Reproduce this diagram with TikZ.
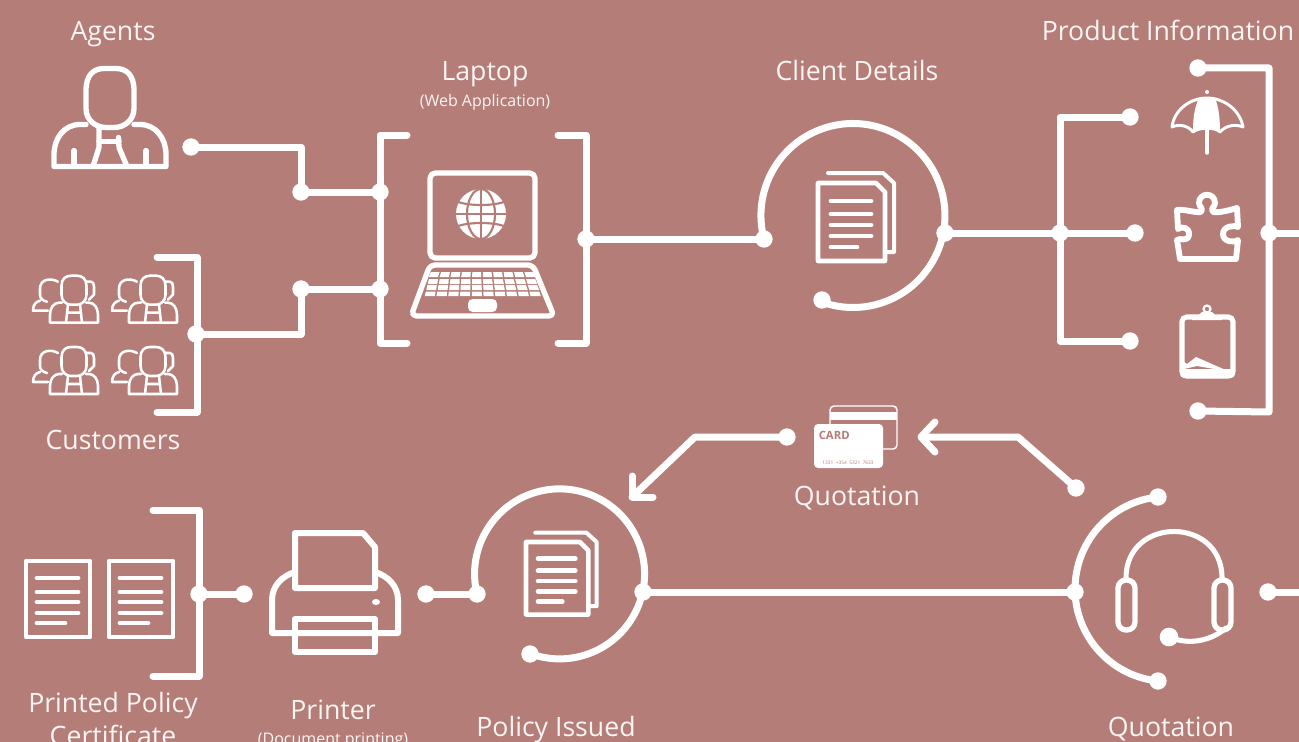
\documentclass[tikz,border=0pt]{standalone}
\usepackage{fontspec}
\setmainfont{Open Sans}
\definecolor{bgc}{RGB}{181,125,119}
\colorlet{txtc}{white!92!bgc}
\tikzset{
  wire/.style={draw=white,line width=5.25pt,line cap=round,line join=round},
  dotn/.style={circle,fill=white,inner sep=0pt,minimum size=13pt},
  icon/.style={draw=white,line width=4pt,line join=round,line cap=round},
  lab/.style={text=txtc,font=\fontsize{20}{24}\selectfont,inner sep=0pt,anchor=center},
  sublab/.style={text=txtc,font=\fontsize{12}{14}\selectfont,inner sep=0pt,anchor=center},
  personpic/.pic={
    \draw (-24,-76) .. controls (-24,-92) and (-16,-98) .. (-6,-98) -- (6,-98) .. controls (16,-98) and (24,-92) .. (24,-76) -- (24,-58) .. controls (24,-46) and (14,-39) .. (4,-39) -- (-4,-39) .. controls (-14,-39) and (-24,-46) .. (-24,-58) -- cycle;
    \draw (-24,-42) -- (-30,-42) .. controls (-46,-42) and (-56,-28) .. (-56,-12) -- (-56,0) -- (56,0) -- (56,-12) .. controls (56,-28) and (46,-42) .. (30,-42) -- (24,-42);
    \draw (-11,-38) -- (-11,-19) -- (-17,0);
    \draw (8.5,-29) -- (9,-19) -- (17,0);
    \draw (-11,-25) -- (9,-25);
    \draw (-36,-16) -- (-36,0) (36,-16) -- (36,0);
  },
  grouppic/.pic={
    \begin{scope}[line width=1.9pt,line join=round,line cap=round,draw=white]
    \draw (-12.5,-37) .. controls (-12.5,-44) and (-8,-47) .. (-3,-47) -- (3,-47) .. controls (8,-47) and (12.5,-44) .. (12.5,-37) -- (12.5,-28) .. controls (12.5,-22) and (8,-18) .. (3,-18) -- (-3,-18) .. controls (-8,-18) and (-12.5,-22) .. (-12.5,-28) -- cycle;
    \draw (-12,-20) -- (-15,-20) .. controls (-20,-20) and (-24,-15) .. (-24,-8) -- (-24,0) -- (24,0) -- (24,-8) .. controls (24,-15) and (20,-20) .. (15,-20) -- (12,-20);
    \draw (-6,-18) -- (-8,0) (6,-18) -- (8,0) (-7,-10) -- (7,-10);
    \draw (-16,-41) .. controls (-23,-45) and (-34,-44) .. (-34,-34) -- (-34,-28) .. controls (-34,-24) and (-31,-22) .. (-27,-21);
    \draw (-34,-22) .. controls (-38,-21) and (-41,-18) .. (-41,-12) -- (-26,-12);
    \draw (12,-41) -- (17,-41) .. controls (19,-41) and (20,-39) .. (20,-36) -- (20,-28) -- (15,-23);
    \end{scope}
  },
  docpic/.pic={
    \draw[line width=3.4pt,draw=white,line join=round] (0,0) -- (58,0) -- (67,9) -- (67,78) -- (0,78) -- cycle;
    \draw[line width=3pt,draw=white,line join=round,line cap=round] (10,-10) -- (65,-10) -- (76,0) -- (76,69) -- (68,69);
    \foreach \yy in {18,31,42,53} \draw[line width=3.6pt,draw=white,line cap=round] (13,\yy) -- (53,\yy);
    \draw[line width=3.6pt,draw=white,line cap=round] (13,64) -- (39,64);
  },
  paperpic/.pic={
    \draw[line width=3.6pt,draw=white,line join=round] (0,0) rectangle (64,76);
    \foreach \yy in {17,31,41,52} \draw[line width=3.6pt,draw=white,line cap=round] (11,\yy) -- (52,\yy);
    \draw[line width=3.6pt,draw=white,line cap=round] (11,62) -- (39,62);
  },
}
\begin{document}
\begin{tikzpicture}[x=0.75pt,y=-0.75pt]
\useasboundingbox (0,0) rectangle (1299,742);
\clip (0,0) rectangle (1299,742);
\fill[bgc] (0,0) rectangle (1299,742);

% ---- labels
\node[lab] (lAgents) at (113,34) {Agents};
\node[lab] (lLaptop) at (485,74) {Laptop};
\node[sublab] (lWeb) at (485,102) {(Web Application)};
\node[lab] (lClient) at (857,71) {Client Details};
\node[lab] (lProduct) at (1168,30) {Product Information};
\node[lab] (lCust) at (113,440) {Customers};
\node[lab] (lQuote) at (857,498) {Quotation};
\node[lab] (lPrinted) at (113,706) {Printed Policy};
\node[lab] (lCert) at (113,735) {Certificate};
\node[lab] (lPrinter) at (333,710) {Printer};
\node[sublab] (lDocp) at (333,741) {(Document printing)};
\node[lab] (lPolicy) at (556,730) {Policy Issued};
\node[lab] (lQuote2) at (1171,729) {Quotation};

% ---- junctions
\node[dotn] (ag) at (191,147) {};
\node[dotn] (j1) at (301,192) {};
\node[dotn] (j2) at (380,192) {};
\node[dotn] (cu) at (196,334) {};
\node[dotn] (j3) at (301,289) {};
\node[dotn] (j4) at (380,289) {};
\node[dotn] (lpR) at (586,239) {};
\node[dotn] (cdL) at (764,239) {};
\node[dotn] (cdR) at (945,233) {};
\node[dotn] (cdE) at (822,300) {};
\node[dotn] (pj) at (1060,233) {};
\node[dotn] (p1) at (1130,117) {};
\node[dotn] (p2) at (1135,233) {};
\node[dotn] (p3) at (1130,341) {};
\node[dotn] (bT) at (1198,68) {};
\node[dotn] (bB) at (1198,411) {};
\node[dotn] (bM) at (1269,233) {};
\node[dotn] (qL) at (1075,592) {};
\node[dotn] (qT) at (1158,497) {};
\node[dotn] (qB) at (1158,681) {};
\node[dotn] (qR) at (1268,592) {};
\node[dotn] (piR) at (643,592) {};
\node[dotn] (piL) at (477,594) {};
\node[dotn] (piE) at (530,654) {};
\node[dotn] (prR) at (426,594) {};
\node[dotn] (prL) at (244,594) {};
\node[dotn] (ppB) at (199,594) {};
\node[dotn] (c1) at (787,437) {};
\node[dotn] (c2) at (1076,488) {};
\coordinate (offR1) at (1299,233);
\coordinate (offR2) at (1299,592);

% ---- connectors
\draw[wire] (ag.center) -| (j1.center) -- (j2.center);
\draw[wire] (cu.center) -| (j3.center) -- (j4.center);
\draw[wire] (157,257) -- (197,257) -- (197,412) -- (157,412);
\draw[wire] (407,135) -- (380,135) -- (380,343) -- (407,343);
\draw[wire] (558,135) -- (586,135) -- (586,343) -- (558,343);
\draw[wire] (lpR.center) -- (cdL.center);
\draw[wire] (cdL.center) arc[start angle=165.2,end angle=471.2,radius=92];
\draw[wire] (cdR.center) -- (pj.center) -- (p2.center);
\draw[wire] (p1.center) -| (pj.center) |- (p3.center);
\draw[wire] (bT.center) -- (1269,68) -- (1269,412) -- (bB.center);
\draw[wire] (bM.center) -- (offR1);
\draw[wire] (qB.center) arc[start angle=95.9,end angle=264.1,radius=92.5];
\draw[wire] (qL.center) -- (piR.center);
\draw[wire] (qR.center) -- (offR2);
\draw[wire] (piL.center) arc[start angle=166.3,end angle=470,radius=85];
\draw[wire] (prR.center) -- (piL.center);
\draw[wire] (153,510) -- (199,510) -- (199,676) -- (153,676);
\draw[wire] (ppB.center) -- (prL.center);
\draw[wire] (c1.center) -- (695,437) -- (632,497);
\draw[wire] (632,476) -- (632,497) -- (653,497);
\draw[wire] (c2.center) -- (1018,437) -- (922,437);
\draw[wire] (935,422) -- (921,437) -- (935,452);

% ---- agent and customers
\pic[icon] at (110,166.5) {personpic};
\pic at (74,322.7) {grouppic};
\pic at (153,322.7) {grouppic};
\pic at (74,394) {grouppic};
\pic at (153,394) {grouppic};

% ---- laptop
\draw[icon,rounded corners=4pt] (430,173) rectangle (535,258);
\draw[icon,rounded corners=4pt] (430,265) -- (533,265) -- (554,316) -- (411,316) -- cycle;
\foreach \r/\ya/\yb/\la/\lb/\ra/\rb in {0/272/277/430/428/534/536,1/279/284/428/427/536/538,2/285/290/426.5/425.5/538/540,3/291.5/296/425/424/540/541.5}{
  \foreach \k in {0,...,9}{
    \pgfmathsetmacro{\xa}{\la+(\ra-\la)*\k/10+0.8}
    \pgfmathsetmacro{\xb}{\la+(\ra-\la)*(\k+1)/10-0.8}
    \pgfmathsetmacro{\xc}{\lb+(\rb-\lb)*(\k+1)/10-0.8}
    \pgfmathsetmacro{\xd}{\lb+(\rb-\lb)*\k/10+0.8}
    \fill[white] (\xa,\ya) -- (\xb,\ya) -- (\xc,\yb) -- (\xd,\yb) -- cycle;
  }
}
\fill[white,rounded corners=3.5pt] (468,299) rectangle (497,312);
% globe
\fill[white] (481,214) circle[radius=25];
\draw[bgc,line width=1.1pt] (481,189) -- (481,239);
\draw[bgc,line width=1.6pt] (481,214) ellipse[x radius=14,y radius=25];
\draw[bgc,line width=1.4pt] (456,214) -- (506,214);
\draw[bgc,line width=1.6pt] (458,202) .. controls (470,206) and (492,206) .. (504,202);
\draw[bgc,line width=1.6pt] (458,226) .. controls (470,222) and (492,222) .. (504,226);

% ---- documents
\pic at (818,183) {docpic};
\pic[scale=0.93] at (526,542) {docpic};
\pic at (26,561) {paperpic};
\pic at (109,561) {paperpic};

% ---- printer
\draw[draw=white,line width=4.5pt,line join=round] (295,533) -- (363,533) -- (375,547) -- (375,588) -- (295,588) -- cycle;
\draw[draw=white,line width=4.5pt,line join=round] (295,572) .. controls (282,576) and (272,586) .. (272,600) -- (272,633) -- (398,633) -- (398,600) .. controls (398,586) and (388,576) .. (375,572);
\fill[bgc] (298,620) rectangle (372,630);
\draw[draw=white,line width=4.5pt,line join=round] (295,619) rectangle (375,652);
\draw[draw=white,line width=4.5pt] (295,633) -- (375,633);
\fill[white] (376,602) ellipse[x radius=4,y radius=3];

% ---- umbrella
\fill[white] (1207,92) circle[radius=2];
\draw[white,line width=2.2pt,line cap=round,line join=round] (1172,127) .. controls (1174,110) and (1190,98) .. (1207,98) .. controls (1224,98) and (1240,110) .. (1243,127) .. controls (1236,124) and (1226,125) .. (1220,132) .. controls (1216,127) and (1198,127) .. (1193,132) .. controls (1188,125) and (1178,124) .. (1172,127) -- cycle;
\fill[white] (1199,98) .. controls (1194,108) and (1193,120) .. (1193,132) .. controls (1198,127) and (1216,127) .. (1220,132) .. controls (1220,120) and (1219,108) .. (1215,98) -- cycle;
\draw[white,line width=2.6pt,line cap=round] (1207,128) -- (1207,153);

% ---- puzzle
\draw[white,line width=4.4pt,line join=round] (1180,259) -- (1178,246) -- (1177,240) .. controls (1180,237) and (1187,243) .. (1189,235) .. controls (1190,227) and (1181,226) .. (1178,229) -- (1177,210) .. controls (1185,209) and (1195,213) .. (1201,212) .. controls (1204,208) and (1199,207) .. (1199,203) .. controls (1199,192) and (1215,192) .. (1215,203) .. controls (1215,207) and (1210,208) .. (1213,212) .. controls (1220,213) and (1230,210) .. (1237,208) -- (1238,227) .. controls (1234,225) and (1223,226) .. (1223,234) .. controls (1223,242) and (1234,243) .. (1238,240) -- (1236,259) -- cycle;

% ---- clipboard
\draw[white,line width=3.8pt,rounded corners=3.5pt] (1182,317) rectangle (1233,376);
\fill[white,rounded corners=3pt] (1180,369) rectangle (1235,378);
\fill[white] (1192,316) .. controls (1198,316) and (1200,315) .. (1202,312) -- (1212,312) .. controls (1214,315) and (1216,316) .. (1222,316) -- (1222,320) -- (1192,320) -- cycle;
\draw[white,line width=1.6pt] (1207,309) circle[radius=3.5];
\fill[white] (1184,362) -- (1187,364) -- (1196,357) -- (1228,371) -- (1220,370) -- (1197,366) -- (1184,369) -- cycle;

% ---- card
\draw[white,line width=1.1pt,rounded corners=3pt] (830,406) rectangle (897,449);
\fill[white] (830,412) rectangle (897,420);
\fill[white,rounded corners=3pt] (814,424) rectangle (883,468);
\node[text=bgc,font=\bfseries\fontsize{8.5}{10}\selectfont,inner sep=0pt,anchor=west] (cardt) at (818.5,435) {CARD};
\node[text=bgc,font=\fontsize{3.6}{4}\selectfont,inner sep=0pt] (cardn) at (848,463) {1331\ \ +354\ \ 5321\ \ 7633};

% ---- headset
\draw[wire,line width=3.8pt] (1126,578) .. controls (1126,516) and (1222,516) .. (1222,578);
\draw[icon,rounded corners=6pt] (1118,580) rectangle (1135,630);
\draw[icon,rounded corners=6pt] (1214,580) rectangle (1231,630);
\node[dotn,minimum size=14pt] (hs) at (1169,637) {};
\draw[wire,line width=3.8pt] (hs.center) .. controls (1190,646) and (1212,640) .. (1226,628);
\end{tikzpicture}
\end{document}
